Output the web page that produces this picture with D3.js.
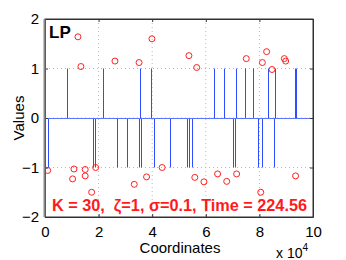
<!DOCTYPE html>
<html>
<head>
<meta charset="utf-8">
<script src="https://cdn.jsdelivr.net/npm/d3@7"></script>
<style>
  body { margin: 0; background: #fff; }
  text { font-family: "Liberation Sans", Arial, sans-serif; }
</style>
</head>
<body>
<div id="chart"></div>
<script>
// true signal: spike positions and signs
var stemX = [1100, 8300, 18000, 18800, 21500, 26700, 30600, 35200, 35600, 35800,
             39400, 40700, 46600, 52900, 53700, 54900, 63200, 66800, 70300, 71000,
             71400, 74600, 77700, 79600, 80800, 83300, 85600, 85800, 93300, 93700];
var stemVal = [-1, 1, -1, -1, 1, -1, -1, -1, 1, -1,
               1, -1, -1, -1, -1, -1, 1, 1, -1, -1,
               1, 1, 1, -1, -1, 1, -1, 1, 1, 1];

// recovered estimates (red circles)
var estX = [1000, 10300, 10800, 12300, 13400, 15000, 15000, 17400, 18900, 26100,
            33300, 35100, 37900, 39900, 43700, 53700, 55900, 56600, 59300, 64400,
            67800, 71500, 75100, 80500, 81100, 82700, 84700, 89300, 89800, 93500];
var estVal = [-1.06, -1.23, -1.03, 1.64, 1.04, -1.04, -1.17, -1.50, -1.00, 1.15,
              -1.34, 1.12, -1.19, 1.60, -1.00, 1.26, -1.20, 1.02, -1.29, -1.13,
              -1.28, -1.13, 1.20, -1.50, 1.12, 1.34, 0.98, 1.20, 1.15, -1.17];

var xTicks = [0, 20000, 40000, 60000, 80000, 100000];
var yTicks = [-2, -1, 0, 1, 2];

var svgWidth = 346;
var svgHeight = 260;
var margin = { top: 19, right: 33, bottom: 43, left: 45 };
var chartWidth = svgWidth - margin.left - margin.right;
var chartHeight = svgHeight - margin.top - margin.bottom;

var svg = d3.select("#chart")
    .append("svg")
        .attr("width", svgWidth)
        .attr("height", svgHeight);

var g = svg.append("g")
    .attr("transform", `translate(${margin.left}, ${margin.top})`);

var xScale = d3.scaleLinear().domain([0, 100000]).range([0, chartWidth]);
var yScale = d3.scaleLinear().domain([-2, 2]).range([chartHeight, 0]);

// dotted grid
g.selectAll(".gx").data(xTicks.slice(1, -1)).enter().append("line")
    .attr("x1", d => xScale(d)).attr("x2", d => xScale(d))
    .attr("y1", 0).attr("y2", chartHeight)
    .attr("stroke", "#b8b8b8").attr("stroke-dasharray", "1,3");
g.selectAll(".gy").data(yTicks.slice(1, -1)).enter().append("line")
    .attr("x1", 0).attr("x2", chartWidth)
    .attr("y1", d => yScale(d)).attr("y2", d => yScale(d))
    .attr("stroke", "#b8b8b8").attr("stroke-dasharray", "1,3");

// stems
g.selectAll(".stem").data(stemX).enter().append("line")
    .attr("x1", d => Math.round(xScale(d)) + 0.5)
    .attr("x2", d => Math.round(xScale(d)) + 0.5)
    .attr("y1", yScale(0))
    .attr("y2", (d, i) => yScale(stemVal[i]))
    .attr("stroke", "#2f4dff").attr("stroke-width", 1);

// baseline
g.append("line")
    .attr("x1", 0).attr("x2", chartWidth)
    .attr("y1", Math.round(yScale(0)) + 0.5).attr("y2", Math.round(yScale(0)) + 0.5)
    .attr("stroke", "#5a74ff").attr("stroke-width", 1);

// circles
g.selectAll(".est").data(estX).enter().append("circle")
    .attr("cx", d => xScale(d))
    .attr("cy", (d, i) => yScale(estVal[i]))
    .attr("r", 3)
    .attr("fill", "none").attr("stroke", "#ff2020").attr("stroke-width", 1);

// axes
var xAxis = d3.axisBottom(xScale).tickValues(xTicks)
    .tickFormat(d => d / 10000).tickSizeInner(-3).tickSizeOuter(0).tickPadding(9);
var yAxis = d3.axisLeft(yScale).tickValues(yTicks)
    .tickFormat(d => d < 0 ? "\u2212" + (-d) : d).tickSizeInner(-3).tickSizeOuter(0).tickPadding(6);

g.append("g").attr("transform", `translate(0, ${chartHeight})`).call(xAxis);
g.append("g").call(yAxis);
g.append("g").attr("transform", `translate(${chartWidth}, 0)`)
    .call(d3.axisRight(yScale).tickValues(yTicks).tickSizeInner(-3).tickSizeOuter(0).tickFormat(""));
g.append("g")
    .call(d3.axisTop(xScale).tickValues(xTicks).tickSizeInner(-3).tickSizeOuter(0).tickFormat(""));

svg.selectAll(".domain").attr("stroke", "#333");
svg.selectAll(".tick line").attr("stroke", "#333");
svg.selectAll(".tick text").attr("font-size", 15).attr("fill", "#000")
    .attr("font-family", "Liberation Sans, Arial, sans-serif");

// box
g.append("rect").attr("width", chartWidth).attr("height", chartHeight)
    .attr("fill", "none").attr("stroke", "#333");
g.append("line").attr("x1", -0.5).attr("x2", -0.5).attr("y1", 0).attr("y2", chartHeight)
    .attr("stroke", "#888").attr("stroke-width", 2);

// labels
svg.append("text").attr("x", 49).attr("y", 38)
    .attr("font-size", 17).attr("font-weight", "bold").text("LP");

svg.append("text").attr("x", 52).attr("y", 211)
    .attr("font-size", 16).attr("font-weight", "bold").attr("fill", "#ff1a1a")
    .attr("xml:space", "preserve")
    .attr("textLength", 255).attr("lengthAdjust", "spacingAndGlyphs")
    .text("K = 30,  \u03b6=1, \u03c3=0.1, Time = 224.56");

svg.append("text").attr("x", 180).attr("y", 253)
    .attr("text-anchor", "middle").attr("font-size", 15).text("Coordinates");

svg.append("text")
    .attr("transform", "translate(24, 118) rotate(-90)")
    .attr("text-anchor", "middle").attr("font-size", 15).text("Values");

var expo = svg.append("text").attr("x", 276).attr("y", 258).attr("font-size", 14);
expo.append("tspan").text("x 10");
expo.append("tspan").attr("dy", -7).attr("font-size", 10).text("4");
</script>
</body>
</html>
